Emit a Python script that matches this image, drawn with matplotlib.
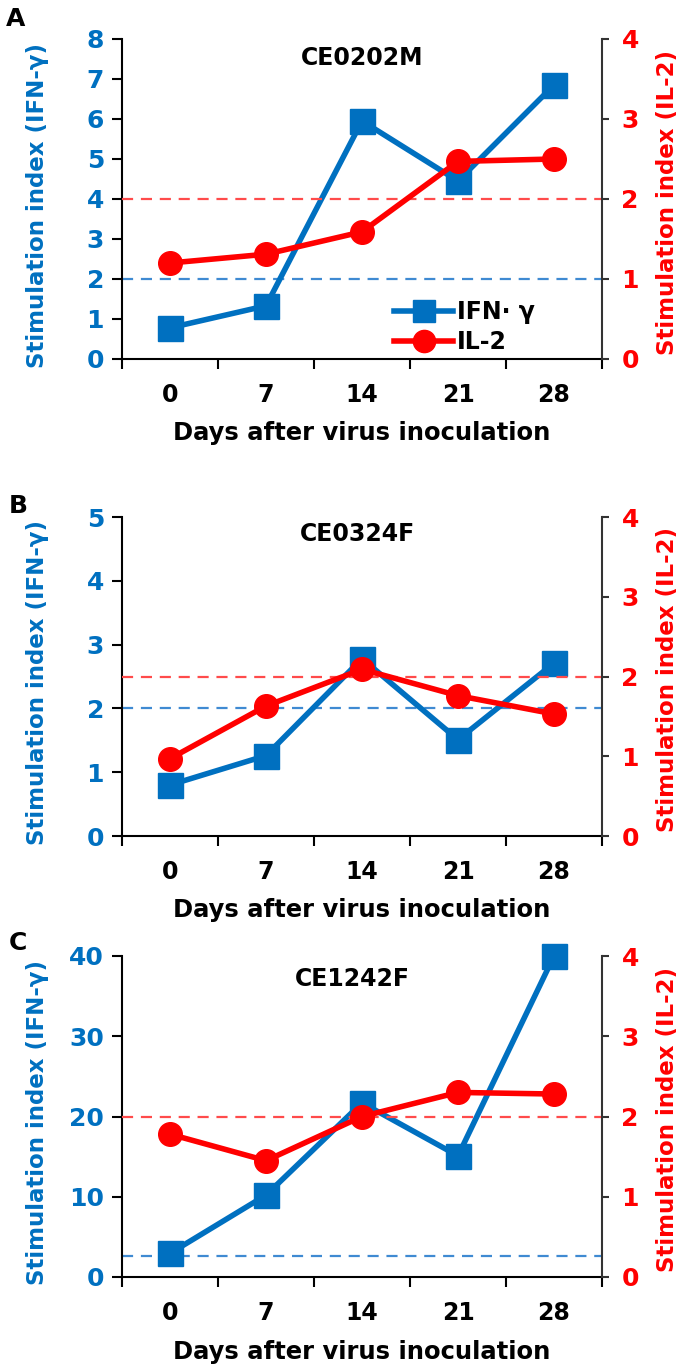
import numpy as np
import matplotlib.pyplot as plt
from matplotlib.ticker import FixedLocator, NullFormatter

days = [0, 7, 14, 21, 28]
panels = ['A', 'B', 'C']
horses = ['CE0202M', 'CE0324F', 'CE1242F']

ifn_a = [0.78, 1.33, 5.95, 4.45, 6.85]
il2_a = [1.20, 1.31, 1.59, 2.47, 2.50]
ifn_b = [0.80, 1.26, 2.78, 1.51, 2.71]
il2_b = [0.97, 1.63, 2.09, 1.76, 1.53]
ifn_c = [2.95, 10.2, 21.7, 15.1, 40.0]
il2_c = [1.78, 1.45, 2.00, 2.30, 2.28]

ifn_cutoff = [2.0, 2.0, 2.6]
il2_cutoff = [2.0, 2.0, 2.0]
ifn_max = [8, 5, 40]
ifn_step = [1, 1, 10]
il2_max = 4

BLUE = '#0070C0'
RED = '#FF0000'

plt.rcParams['font.family'] = 'DejaVu Sans'
plt.rcParams['font.weight'] = 'bold'

fig = plt.figure(figsize=(6.88, 13.69), dpi=100)
W, H = 688, 1369
# axes boxes in pixels: left, top, right, bottom
boxes = [(122, 39, 602, 359), (122, 517, 602, 836), (122, 956, 602, 1277)]
letter_pos = [(16, 19), (18, 506), (18, 943)]
title_pos = [(0.50, 0.94), (0.49, 0.947), (0.48, 0.928)]

ifn_data = [ifn_a, ifn_b, ifn_c]
il2_data = [il2_a, il2_b, il2_c]

x = np.arange(len(days))

for i in range(3):
    l, t, r, b = boxes[i]
    ax = fig.add_axes([l / W, 1 - b / H, (r - l) / W, (b - t) / H])
    ax2 = ax.twinx()

    # threshold lines
    ax.axhline(ifn_cutoff[i], color='#3F8AD2', lw=1.6, dashes=(5, 3.5), zorder=1)
    ax2.axhline(il2_cutoff[i], color='#FF4B4B', lw=1.6, dashes=(5, 3.5), zorder=1)

    h1, = ax.plot(x, ifn_data[i], color=BLUE, lw=4, marker='s', ms=18,
                  label='IFN\u00b7 \u03b3', zorder=3, clip_on=False)
    h2, = ax2.plot(x, il2_data[i], color=RED, lw=4, marker='o', ms=17,
                   label='IL-2', zorder=3, clip_on=False)

    ax.set_xlim(-0.5, 4.5)
    ax.set_ylim(0, ifn_max[i])
    ax.set_yticks(np.arange(0, ifn_max[i] + 0.1, ifn_step[i]))
    ax2.set_ylim(0, il2_max)
    ax2.set_yticks(np.arange(0, il2_max + 1, 1))

    # ticks between categories, labels at category centres
    ax.xaxis.set_major_locator(FixedLocator(np.arange(-0.5, 5, 1)))
    ax.xaxis.set_major_formatter(NullFormatter())
    ax.xaxis.set_minor_locator(FixedLocator(x))
    ax.set_xticklabels([str(d) for d in days], minor=True)
    ax.tick_params(axis='x', which='major', direction='out', length=7, width=1.5, color='black')
    ax.tick_params(axis='x', which='minor', length=0, pad=17, labelsize=17)

    ax.tick_params(axis='y', direction='out', length=7, width=1.5, color='black',
                   labelcolor=BLUE, labelsize=18, pad=6)
    ax2.tick_params(axis='y', direction='out', length=5, width=1.5, color='#333333',
                    labelcolor=RED, labelsize=18, pad=9)

    for sp in ['top', 'right']:
        ax.spines[sp].set_visible(False)
    for sp in ['top', 'left', 'bottom']:
        ax2.spines[sp].set_visible(False)
    ax.spines['left'].set_linewidth(1.5)
    ax.spines['bottom'].set_linewidth(1.5)
    ax2.spines['right'].set_linewidth(1.5)
    ax2.spines['right'].set_color('#333333')

    ax.set_ylabel('Stimulation index (IFN-\u03b3)', color=BLUE, fontsize=16.5, fontweight='bold')
    ax.yaxis.set_label_coords(-0.152, 0.48)
    ax2.set_ylabel('Stimulation index (IL-2)', color=RED, fontsize=16.5, fontweight='bold')
    ax2.yaxis.set_label_coords(1.113, 0.49)
    ax.set_xlabel('Days after virus inoculation', fontsize=17.5, fontweight='bold')
    ax.xaxis.set_label_coords(0.5, -0.195)

    ax.text(title_pos[i][0], title_pos[i][1], horses[i], transform=ax.transAxes,
            ha='center', va='center', fontsize=17, fontweight='bold')
    fig.text(letter_pos[i][0] / W, 1 - letter_pos[i][1] / H, panels[i],
             ha='center', va='center', fontsize=18, fontweight='bold')

    if i == 0:
        leg = ax2.legend([h1, h2], [h1.get_label(), h2.get_label()],
                         loc='lower left', bbox_to_anchor=(0.567, 0.015),
                         frameon=False, fontsize=17, handlelength=2.5,
                         handletextpad=0.15, labelspacing=0.25,
                         borderpad=0, borderaxespad=0)
        for h in leg.legend_handles:
            h.set_markersize(16)

fig.savefig('out.png', dpi=100)
